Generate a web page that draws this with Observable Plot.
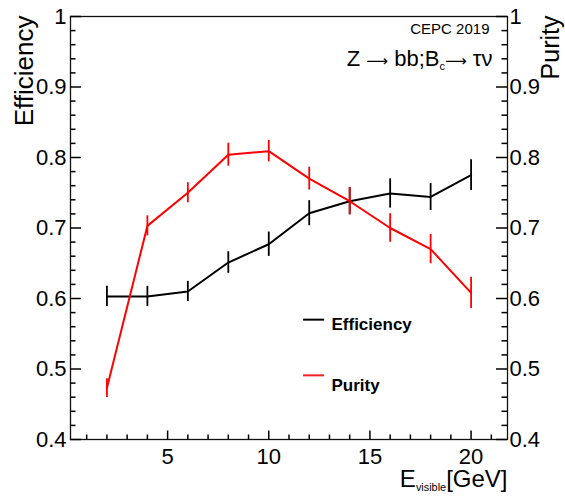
<!DOCTYPE html>
<html><head><meta charset="utf-8">
<script src="https://cdn.jsdelivr.net/npm/d3@7"></script>
<script src="https://cdn.jsdelivr.net/npm/@observablehq/plot@0.6"></script>
<style>body{margin:0;background:#fff;} svg{display:block;}</style>
</head><body><div id="chart"></div>
<script>
// Data
const energy = [2, 4, 6, 8, 10, 12, 14, 16, 18, 20];
const efficiency = [0.603, 0.603, 0.610, 0.651, 0.677, 0.721, 0.738, 0.749, 0.744, 0.775];
const efficiencyErr = [0.010, 0.010, 0.010, 0.011, 0.013, 0.0135, 0.015, 0.0165, 0.015, 0.0175];
const purity = [0.473, 0.703, 0.750, 0.804, 0.809, 0.770, 0.738, 0.700, 0.670, 0.608];
const purityErr = [0.009, 0.010, 0.010, 0.012, 0.011, 0.012, 0.015, 0.016, 0.0165, 0.018];

// Ticks
const yMajor = [0.4, 0.5, 0.6, 0.7, 0.8, 0.9, 1.0];
const yMinor = [0.42,0.44,0.46,0.48,0.52,0.54,0.56,0.58,0.62,0.64,0.66,0.68,0.72,0.74,0.76,0.78,0.82,0.84,0.86,0.88,0.92,0.94,0.96,0.98];
const xMajor = [5, 10, 15, 20];
const xMinor = [1,2,3,4,6,7,8,9,11,12,13,14,16,17,18,19,21];

// Texts
const xTitle = "E_{visible}[GeV]";
const yTitleLeft = "Efficiency";
const yTitleRight = "Purity";
const labelTop = "CEPC 2019";
const labelProcess = "Z \u2192 bb;B_{c}\u2192 \u03c4\u03bd";

// Legend
const legendLabels = ["Efficiency", "Purity"];
const legendColors = ["#000000", "#ee2222"];
const legendY = [0.570, 0.491];
const legendTextY = [0.5637, 0.477];
const legendX1 = 11.72, legendX2 = 12.76, legendTextX = 13.1;

const xDomain = [0.2, 21.8];
const yDomain = [0.4, 1.0];

const effData = energy.map((e, i) => ({x: e, y: efficiency[i], err: efficiencyErr[i]}));
const purData = energy.map((e, i) => ({x: e, y: purity[i], err: purityErr[i]}));
const legendData = legendLabels.map((l, i) => ({label: l, color: legendColors[i], y: legendY[i], ty: legendTextY[i]}));
const fmtY = d => d === 1 ? "1" : d.toFixed(1);

const PW = 565, PH = 497, mL = 70, mR = 58, mT = 16, mB = 58;
const FW = PW - mL - mR, FH = PH - mT - mB;
const pxX = (xDomain[1] - xDomain[0]) / FW;  // x units per pixel
const pxY = (yDomain[1] - yDomain[0]) / FH;  // y units per pixel

function errorBars(data, color) {
  return [
    Plot.ruleX(data, {x: "x", y1: "y", y2: d => d.y + d.err, stroke: color, strokeWidth: 1.8, insetBottom: 3}),
    Plot.ruleX(data, {x: "x", y1: d => d.y - d.err, y2: "y", stroke: color, strokeWidth: 1.8, insetTop: 3})
  ];
}
// inward ticks as short rules (pixel length converted to data units)
function leftTicks(vals, len) { return Plot.ruleY(vals, {y: d => d, x1: xDomain[0], x2: xDomain[0] + len * pxX, stroke: "black", strokeWidth: 1.5}); }
function rightTicks(vals, len) { return Plot.ruleY(vals, {y: d => d, x1: xDomain[1] - len * pxX, x2: xDomain[1], stroke: "black", strokeWidth: 1.5}); }
function bottomTicks(vals, len) { return Plot.ruleX(vals, {x: d => d, y1: yDomain[0], y2: yDomain[0] + len * pxY, stroke: "black", strokeWidth: 1.5}); }

const plot = Plot.plot({
  width: PW, height: PH, marginLeft: mL, marginRight: mR, marginTop: mT, marginBottom: mB,
  style: {fontFamily: "'Liberation Sans', Arial, Helvetica, sans-serif", background: "#fff", color: "#000"},
  x: {domain: xDomain},
  y: {domain: yDomain},
  marks: [
    Plot.frame({stroke: "#111", fill: "none", strokeWidth: 1.3}),
    leftTicks(yMinor, 5.5), leftTicks(yMajor, 11),
    rightTicks(yMinor, 5.5), rightTicks(yMajor, 11),
    bottomTicks(xMinor, 4.5), bottomTicks(xMajor, 8.5),
    // tick labels
    Plot.axisY(yMajor, {anchor: "left", tickSize: 0, tickPadding: 4, tickFormat: fmtY, label: null, fontSize: 22}),
    Plot.axisY(yMajor, {anchor: "right", tickSize: 0, tickPadding: 2, tickFormat: fmtY, label: null, fontSize: 22}),
    Plot.axisX(xMajor, {anchor: "bottom", tickSize: 0, tickPadding: 9, tickFormat: d => String(d), label: null, fontSize: 22}),
    // data
    Plot.line(effData, {x: "x", y: "y", stroke: "#000", strokeWidth: 2}),
    ...errorBars(effData, "#000"),
    Plot.line(purData, {x: "x", y: "y", stroke: "#ff0000", strokeWidth: 2}),
    ...errorBars(purData, "#ff0000"),
    // legend
    Plot.ruleY(legendData, {y: "y", x1: legendX1, x2: legendX2, stroke: "color", strokeWidth: 2}),
    Plot.text(legendData, {x: legendTextX, y: "ty", text: "label", textAnchor: "start", lineAnchor: "middle", fontSize: 17, fontWeight: "bold", fill: "#000"}),
    // annotations
    Plot.text([labelTop], {frameAnchor: "top-right", text: d => d, textAnchor: "end", lineAnchor: "top", dx: -18, dy: 7, fontSize: 15}),
    Plot.text([labelProcess], {frameAnchor: "top-right", text: d => d, textAnchor: "end", lineAnchor: "top", dx: -15, dy: 34, fontSize: 22}),
    // axis titles
    Plot.text([xTitle], {frameAnchor: "bottom-right", text: d => d, textAnchor: "end", lineAnchor: "top", dy: 30, fontSize: 24}),
    Plot.text([yTitleLeft], {frameAnchor: "top-left", text: d => d, textAnchor: "end", lineAnchor: "bottom", rotate: -90, dx: -38, dy: -1, fontSize: 26}),
    Plot.text([yTitleRight], {frameAnchor: "top-right", text: d => d, textAnchor: "end", lineAnchor: "bottom", rotate: -90, dx: 51, dy: -1, fontSize: 25})
  ]
});

// Convert _{...} into subscript tspans and draw long arrows
const SVGNS = "http://www.w3.org/2000/svg";
plot.querySelectorAll("text").forEach(t => {
  const s = t.textContent;
  if (!s.includes("_{") && !s.includes("\u2192")) return;
  const fs = parseFloat(t.getAttribute("font-size") || getComputedStyle(t).fontSize) || 16;
  while (t.firstChild) t.removeChild(t.firstChild);
  const parts = s.split(/(_\{[^}]*\}|\u2192)/).filter(p => p);
  let shifted = 0;
  parts.forEach(p => {
    const ts = document.createElementNS(SVGNS, "tspan");
    if (p.startsWith("_{")) {
      ts.textContent = p.slice(2, -1);
      ts.setAttribute("font-size", (fs * 0.68).toFixed(1));
      const sh = fs * 0.27;
      ts.setAttribute("dy", sh.toFixed(1));
      shifted = sh;
    } else {
      ts.textContent = p === "\u2192" ? "\u27f6" : p;
      if (p === "\u2192") { ts.setAttribute("font-family", "DejaVu Sans"); ts.setAttribute("font-size", (fs * 0.95).toFixed(1)); }
      if (shifted) { ts.setAttribute("dy", (-shifted).toFixed(1)); shifted = 0; }
    }
    t.appendChild(ts);
  });
});

document.getElementById("chart").appendChild(plot);
</script>
</body></html>
